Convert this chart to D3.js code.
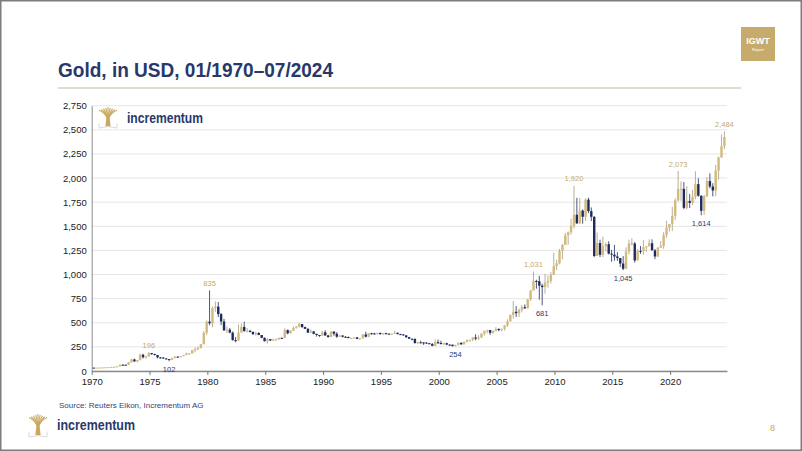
<!DOCTYPE html>
<html>
<head>
<meta charset="utf-8">
<script src="https://cdn.jsdelivr.net/npm/d3@7"></script>
<style>
  body { margin:0; background:#fff; }
  svg { display:block; font-family:"Liberation Sans", Arial, sans-serif; }
  .axis text { font-size:9.5px; fill:#222; }
  .axis .domain { stroke:#8c8c8c; }
  .grid line { stroke:#e6e6e6; }
</style>
</head>
<body>
<svg id="chart" width="802" height="451"></svg>
<script>
// quarterly OHLC, 1970 Q1 .. 2024 Q3 (Q3 2024 = July only)
const startYear = 1970;
const firstOpen = 35.2;

const closes = [
    35.1, 35.4, 36.2, 37.4,  38.9, 40.1, 42.6, 43.6,  48.3, 65.1, 64.7, 63.9,  90.0, 120.0, 100.0, 112.3,
    168.0, 143.0, 151.8, 186.5,  177.0, 166.0, 141.3, 140.3,  129.6, 123.8, 116.0, 134.5,  148.9, 143.0, 154.0, 165.0,
    181.0, 183.0, 217.0, 226.0,  240.0, 277.5, 397.0, 512.0,
    494.5, 653.0, 666.8, 589.8,  513.3, 422.0, 428.8, 397.5,  320.0, 317.0, 397.0, 456.9,  414.8, 416.5, 405.0, 382.4,
    394.3, 373.1, 343.8, 308.3,  330.6, 317.0, 326.4, 326.8,  343.6, 343.3, 423.7, 390.9,  419.9, 447.3, 459.5, 486.5,
    456.1, 436.6, 397.8, 410.3,  385.2, 373.0, 366.5, 401.0,
    368.5, 352.2, 408.4, 386.2,  355.7, 368.4, 354.9, 353.2,  341.7, 343.4, 349.0, 333.0,  337.8, 378.5, 355.5, 391.8,
    389.2, 385.8, 394.9, 383.3,  392.0, 387.1, 384.0, 387.0,  396.4, 382.0, 379.0, 369.3,  351.0, 334.6, 332.1, 290.2,
    297.4, 296.3, 293.9, 287.8,  279.5, 261.0, 299.0, 290.3,
    278.4, 288.2, 273.7, 272.7,  257.7, 270.6, 293.1, 276.5,  301.4, 318.5, 323.7, 347.2,  334.9, 346.0, 388.0, 416.3,
    423.7, 395.8, 415.7, 435.6,  427.5, 437.1, 473.3, 513.0,  582.0, 613.5, 599.3, 632.0,  661.8, 650.5, 743.0, 833.8,
    933.5, 930.3, 884.5, 869.8,  916.5, 934.5, 995.8, 1087.5,
    1115.5, 1244.0, 1307.0, 1405.5,  1439.0, 1505.5, 1620.0, 1531.0,  1662.5, 1598.5, 1776.0, 1657.5,  1598.3, 1192.0, 1326.5, 1204.5,
    1291.8, 1315.0, 1216.5, 1206.0,  1187.0, 1171.0, 1114.0, 1060.0,  1237.0, 1320.8, 1322.5, 1145.9,  1244.9, 1243.3, 1283.1, 1291.0,
    1324.7, 1250.5, 1187.3, 1279.0,  1295.4, 1409.0, 1485.3, 1523.0,
    1609.0, 1768.1, 1886.9, 1887.6,  1691.1, 1763.2, 1742.8, 1805.9,  1937.0, 1817.0, 1660.0, 1812.0,  1969.0, 1912.0, 1871.0, 2078.0,
    2214.0, 2330.0, 2426.0
];

const highs = [
    35.5, 35.9, 36.5, 37.6,  39.2, 40.9, 42.9, 43.9,  49.0, 66.0, 70.0, 65.5,  94.0, 127.0, 127.0, 112.5,
    179.5, 179.0, 159.0, 196.0,  187.0, 178.0, 166.0, 146.0,  140.5, 134.0, 124.0, 139.0,  153.0, 149.5, 154.5, 167.0,
    190.0, 185.0, 218.0, 243.0,  253.0, 280.0, 412.0, 524.0,
    835.0, 668.0, 721.0, 715.0,  600.0, 540.0, 460.0, 445.0,  410.0, 352.0, 481.0, 490.0,  511.0, 445.0, 427.0, 410.0,
    406.0, 402.0, 363.0, 348.0,  341.0, 330.0, 336.0, 339.0,  348.0, 347.0, 442.0, 431.0,  421.0, 462.0, 467.0, 502.0,
    486.5, 459.0, 445.0, 432.0,  412.0, 386.0, 372.0, 415.0,
    423.0, 374.0, 413.0, 412.0,  403.0, 370.0, 369.0, 362.0,  356.0, 344.0, 350.0, 349.0,  338.0, 379.0, 407.0, 392.0,
    395.0, 395.0, 396.0, 397.0,  393.0, 396.0, 389.0, 389.0,  416.0, 396.5, 387.0, 383.0,  370.0, 354.0, 336.0, 339.0,
    303.0, 313.0, 300.0, 299.0,  291.0, 290.0, 325.0, 326.0,
    313.0, 294.0, 294.0, 276.0,  273.0, 272.0, 294.0, 293.5,  304.0, 328.0, 326.0, 349.0,  382.0, 371.0, 390.0, 417.0,
    427.0, 426.0, 420.0, 454.0,  443.0, 441.0, 475.0, 537.0,  584.0, 725.0, 673.0, 648.0,  685.0, 691.0, 743.0, 841.0,
    1031.0, 946.0, 986.0, 905.0,  1006.0, 990.0, 1024.0, 1226.0,
    1153.0, 1265.0, 1315.0, 1431.0,  1447.0, 1577.0, 1920.0, 1795.0,  1792.0, 1675.0, 1790.0, 1796.0,  1695.0, 1605.0, 1434.0, 1361.0,
    1392.0, 1332.0, 1345.0, 1255.0,  1307.0, 1232.0, 1170.0, 1191.0,  1282.0, 1362.0, 1375.0, 1337.0,  1263.0, 1295.0, 1357.0, 1298.0,
    1365.0, 1365.0, 1265.0, 1284.0,  1346.0, 1439.0, 1557.0, 1525.0,
    1703.0, 1789.0, 2073.0, 1965.0,  1959.0, 1916.0, 1834.0, 1877.0,  2070.0, 1998.0, 1820.0, 1824.0,  2009.0, 2048.0, 1947.0, 2135.0,
    2222.0, 2450.0, 2484.0
];

const lows = [
    34.8, 35.0, 35.3, 36.1,  37.3, 38.3, 40.0, 42.0,  43.5, 48.0, 63.0, 60.0,  64.0, 88.0, 95.0, 90.0,
    112.0, 129.0, 129.0, 151.0,  166.0, 161.0, 131.0, 128.8,  125.0, 123.0, 102.0, 115.0,  130.0, 139.0, 141.0, 153.0,
    165.0, 168.0, 183.0, 193.0,  216.0, 233.0, 277.0, 372.0,
    474.0, 453.0, 614.0, 559.0,  475.0, 415.0, 392.0, 391.0,  315.0, 297.0, 315.0, 405.0,  407.0, 400.0, 400.0, 372.0,
    365.0, 371.0, 339.0, 307.0,  284.0, 310.0, 311.0, 319.0,  325.0, 334.0, 343.0, 381.0,  390.0, 415.0, 439.0, 452.0,
    445.0, 435.0, 394.0, 395.0,  381.0, 357.0, 354.0, 362.0,
    366.0, 345.0, 352.0, 365.0,  344.0, 354.0, 347.0, 344.0,  340.0, 330.0, 337.0, 330.0,  326.0, 337.0, 348.0, 350.0,
    377.0, 377.0, 378.0, 375.0,  372.0, 380.0, 379.0, 382.0,  387.0, 381.0, 378.0, 367.0,  342.0, 334.0, 318.0, 283.0,
    279.0, 288.0, 271.0, 283.0,  278.0, 257.0, 256.0, 280.0,
    278.0, 270.0, 268.0, 264.0,  256.0, 254.0, 265.0, 272.0,  276.0, 297.0, 303.0, 310.0,  319.0, 320.0, 342.0, 366.0,
    390.0, 375.0, 387.0, 411.0,  411.0, 414.0, 418.0, 456.0,  524.0, 543.0, 560.0, 560.0,  608.0, 642.0, 648.0, 725.0,
    846.0, 853.0, 740.0, 681.0,  802.0, 865.0, 908.0, 1003.0,
    1045.0, 1105.0, 1157.0, 1313.0,  1309.0, 1414.0, 1478.0, 1523.0,  1523.0, 1527.0, 1556.0, 1636.0,  1555.0, 1180.0, 1208.0, 1181.0,
    1182.0, 1240.0, 1208.0, 1132.0,  1142.0, 1142.0, 1077.0, 1045.0,  1061.0, 1208.0, 1302.0, 1123.0,  1146.0, 1214.0, 1205.0, 1236.0,
    1303.0, 1250.0, 1160.0, 1182.0,  1276.0, 1266.0, 1381.0, 1446.0,
    1451.0, 1568.0, 1757.0, 1764.0,  1677.0, 1676.0, 1690.0, 1721.0,  1780.0, 1806.0, 1614.0, 1617.0,  1804.0, 1893.0, 1810.0, 1810.0,
    1984.0, 2210.0, 2300.0
];

const yTickValues = [0, 250, 500, 750, 1000, 1250, 1500, 1750, 2000, 2250, 2500, 2750];
const xTickYears = [1970, 1975, 1980, 1985, 1990, 1995, 2000, 2005, 2010, 2015, 2020];

// [year, quarter, "high"|"low"]
const callouts = [
    [1974, 4, "high"], [1976, 3, "low"], [1980, 1, "high"], [2001, 2, "low"],
    [2008, 1, "high"], [2008, 4, "low"], [2011, 3, "high"], [2015, 4, "low"],
    [2020, 3, "high"], [2022, 3, "low"], [2024, 3, "high"]
];

const gold = "#d2b97c";
const goldText = "#c8a866";
const navy = "#1f2b5c";
const titleNavy = "#27386b";
const logoGold = "#c9a860";

const candles = closes.map((c, i) => ({
    year: startYear + Math.floor(i / 4),
    q: i % 4 + 1,
    date: new Date(startYear + Math.floor(i / 4), (i % 4) * 3 + 2, 10),
    open: i === 0 ? firstOpen : closes[i - 1],
    high: highs[i],
    low: lows[i],
    close: c
}));

const svg = d3.select("#chart");

// slide frame
svg.append("rect")
    .attr("x", 0.75).attr("y", 0.75)
    .attr("width", 800.5).attr("height", 449.5)
    .attr("fill", "#fff")
    .attr("stroke", "#7d7d7d")
    .attr("stroke-width", 1.5);

// header
svg.append("text")
    .attr("x", 58).attr("y", 77)
    .attr("textLength", 275).attr("lengthAdjust", "spacingAndGlyphs")
    .style("font-family", "'Liberation Sans Narrow', 'Arial Narrow', 'Liberation Sans', sans-serif")
    .style("font-size", "21px").style("font-weight", "bold")
    .attr("fill", titleNavy)
    .text("Gold, in USD, 01/1970\u201307/2024");

svg.append("line")
    .attr("x1", 58).attr("x2", 741).attr("y1", 88).attr("y2", 88)
    .attr("stroke", "#d9d1c1").attr("stroke-width", 1.5);

const badge = svg.append("g").attr("transform", "translate(741,27)");
badge.append("rect").attr("width", 34).attr("height", 34).attr("fill", "#c7ab6d");
badge.append("text").attr("x", 17).attr("y", 17).attr("text-anchor", "middle")
    .style("font-size", "9px").style("font-weight", "bold").attr("fill", "#fff").text("IGWT");
badge.append("text").attr("x", 17).attr("y", 24).attr("text-anchor", "middle")
    .style("font-size", "4px").attr("fill", "#fff").text("Report");

// scales
const xScale = d3.scaleTime()
    .domain([new Date(1970, 0, 1), new Date(2024, 11, 1)])
    .range([91.7, 727]);
const yScale = d3.scaleLinear()
    .domain([0, 2750])
    .range([371, 105.7]);

const plot = svg.append("g");

plot.append("g")
    .attr("class", "grid")
    .selectAll("line")
    .data(yTickValues)
    .enter()
    .append("line")
    .attr("x1", xScale.range()[0]).attr("x2", xScale.range()[1])
    .attr("y1", d => yScale(d)).attr("y2", d => yScale(d));

// chart logo, drawn before candles so it stays in the background
drawLogo(plot, 98, 106, 20, 22);
plot.append("text")
    .attr("x", 127).attr("y", 123)
    .attr("textLength", 76).attr("lengthAdjust", "spacingAndGlyphs")
    .style("font-size", "14px").style("font-weight", "600")
    .attr("fill", titleNavy)
    .text("incrementum");

const yAxis = d3.axisLeft(yScale)
    .tickValues(yTickValues)
    .tickSize(0)
    .tickPadding(5)
    .tickFormat(d3.format(","));
plot.append("g")
    .attr("class", "axis yAxis")
    .attr("transform", "translate(" + xScale.range()[0] + ",0)")
    .call(yAxis);

const xAxis = d3.axisBottom(xScale)
    .tickValues(xTickYears.map(y => new Date(y, 0, 1)))
    .tickSizeInner(4)
    .tickSizeOuter(0)
    .tickPadding(3.5)
    .tickFormat(d3.timeFormat("%Y"));
const xG = plot.append("g")
    .attr("class", "axis xAxis")
    .attr("transform", "translate(0," + yScale(0) + ")")
    .call(xAxis);
xG.select(".domain").attr("stroke", "#7a7a7a").attr("stroke-width", 1.5);
xG.selectAll(".tick line").attr("stroke", "#7a7a7a");

// candles
const bw = 2.4;
const candle = plot.append("g")
    .selectAll("g")
    .data(candles)
    .enter()
    .append("g");

candle.append("line")
    .attr("x1", d => xScale(d.date)).attr("x2", d => xScale(d.date))
    .attr("y1", d => yScale(d.high)).attr("y2", d => yScale(d.low))
    .attr("stroke", d => d.close >= d.open ? "#a89a7c" : navy)
    .attr("stroke-width", 0.8);

candle.append("rect")
    .attr("x", d => xScale(d.date) - bw / 2)
    .attr("width", bw)
    .attr("y", d => yScale(Math.max(d.open, d.close)))
    .attr("height", d => Math.max(1, Math.abs(yScale(d.open) - yScale(d.close))))
    .attr("fill", d => d.close >= d.open ? gold : navy);

// high / low callouts
const fmt = d3.format(",");
plot.append("g")
    .selectAll("text")
    .data(callouts.map(([y, q, kind]) => {
        const c = candles.find(d => d.year === y && d.q === q);
        return { c: c, kind: kind, value: kind === "high" ? c.high : c.low };
    }))
    .enter()
    .append("text")
    .attr("x", d => xScale(d.c.date))
    .attr("y", d => d.kind === "high" ? yScale(d.value) - 4.5 : yScale(d.value) + 11)
    .attr("text-anchor", "middle")
    .style("font-size", "7.5px")
    .attr("fill", d => d.kind === "high" ? goldText : "#2c3b6c")
    .text(d => fmt(d.value));

// footer
svg.append("text")
    .attr("x", 59).attr("y", 408)
    .style("font-size", "8px")
    .attr("fill", "#34447a")
    .text("Source: Reuters Eikon, Incrementum AG");

drawLogo(svg, 28, 413, 20, 24);
svg.append("text")
    .attr("x", 57).attr("y", 430)
    .attr("textLength", 78).attr("lengthAdjust", "spacingAndGlyphs")
    .style("font-size", "15px").style("font-weight", "600")
    .attr("fill", titleNavy)
    .text("incrementum");

svg.append("text")
    .attr("x", 770).attr("y", 431)
    .style("font-size", "9px")
    .attr("fill", goldText)
    .text("8");

// stylised tree: trunk, fanned branches, open book at the base
function drawLogo(parent, x, y, w, h) {
    const g = parent.append("g").attr("transform", "translate(" + x + "," + y + ")");
    const cx = w / 2;
    const fork = h * 0.6;
    const n = 9;
    d3.range(n).forEach(i => {
        const t = i / (n - 1);
        const tx = 1 + (w - 2) * t;
        const ty = 1 + Math.abs(t - 0.5) * h * 0.3;
        g.append("path")
            .attr("d", "M" + cx + "," + fork + "Q" + (cx + (tx - cx) * 0.35) + "," + (h * 0.3) + " " + tx + "," + ty)
            .attr("fill", "none")
            .attr("stroke", logoGold).attr("stroke-width", 1.1);
    });
    g.append("path")
        .attr("d", "M" + (cx - 1.6) + "," + (fork - 2) + "L" + (cx + 1.6) + "," + (fork - 2)
            + "L" + (cx + 2.6) + "," + (h * 0.92) + "L" + (cx - 2.6) + "," + (h * 0.92) + "Z")
        .attr("fill", logoGold);
    g.append("path")
        .attr("d", "M1," + (h * 0.78) + "L1," + h + "L" + cx + "," + (h - 1.5) + "L" + (w - 1) + "," + h + "L" + (w - 1) + "," + (h * 0.78))
        .attr("fill", "none").attr("stroke", "#cfcfcf").attr("stroke-width", 0.8);
}
</script>
</body>
</html>
